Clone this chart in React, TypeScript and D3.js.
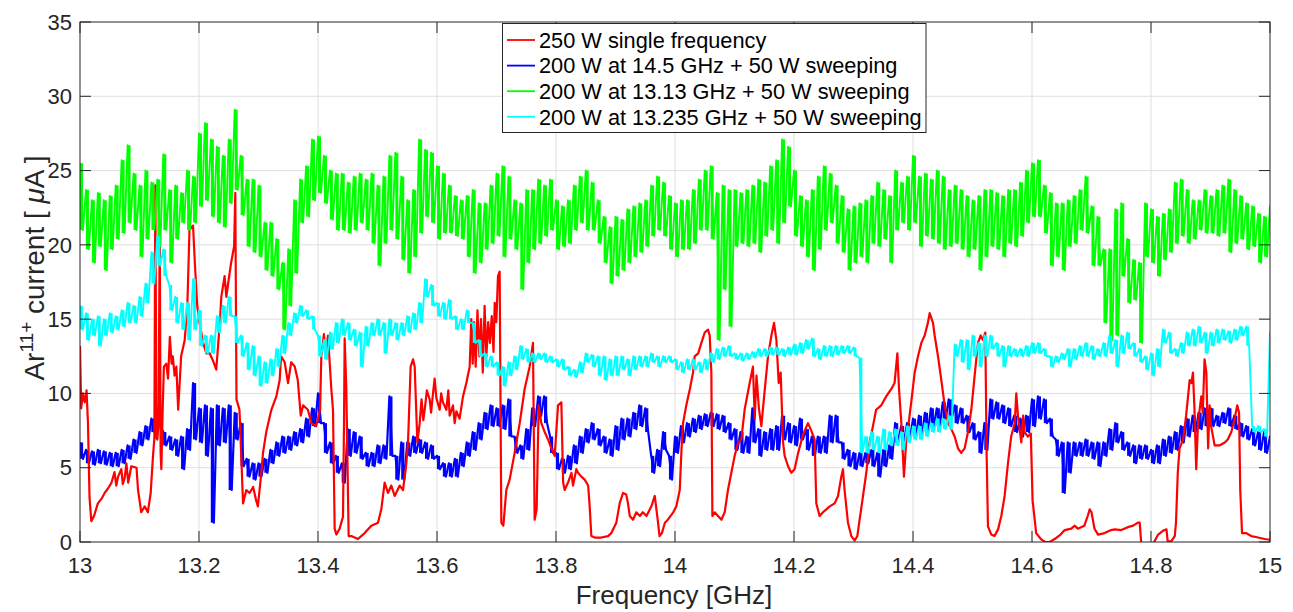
import React, { useRef, useEffect } from 'react'
import * as d3 from 'd3'

// sample grid of the decimated traces: one bin every 10 MHz, 13 -> 15 GHz
const FREQ = d3.range(0, 201).map(i => +(13 + i * 0.01).toFixed(2))
const HALF = 0.005

// 200 W at 13.13 GHz + 50 W sweeping (max / min per bin)
const greenHi = [25.5,23.7,23.0,23.5,23.0,23.3,24.0,25.7,26.7,24.8,24.0,25.0,24.2,24.4,26.1,23.7,24.0,23.5,25.0,24.6,
  27.5,28.2,27.1,26.6,26.0,27.1,29.1,26.0,24.4,24.4,24.0,21.5,21.5,20.4,18.8,19.7,23.0,24.4,25.3,27.1,
  27.3,26.0,25.0,24.8,24.8,24.2,24.6,24.8,24.4,24.8,24.0,24.6,26.0,26.2,24.6,23.0,23.7,27.1,26.4,26.2,
  25.3,24.8,24.0,23.3,23.0,23.3,23.7,22.8,22.8,24.0,24.8,25.3,24.6,23.0,22.8,23.7,23.7,24.4,24.0,24.4,
  23.0,22.6,23.0,24.0,24.6,25.0,24.2,23.0,21.9,21.2,21.9,21.7,22.4,22.6,22.8,23.0,24.0,24.6,24.2,23.3,
  22.8,23.0,23.0,23.7,24.4,25.0,25.3,23.5,24.0,23.7,23.7,23.5,23.7,24.0,24.4,24.2,25.3,25.7,27.1,26.6,
  25.0,23.3,23.0,23.7,24.6,25.3,24.8,24.0,23.3,22.4,22.6,22.8,23.0,23.3,24.2,23.7,23.3,25.0,24.2,24.6,
  26.0,24.6,24.8,24.4,25.0,24.6,23.7,24.0,23.7,23.3,23.0,23.3,23.7,23.7,23.5,23.3,23.7,23.7,24.2,25.0,
  25.5,25.7,24.0,23.5,22.8,22.8,23.0,23.3,23.7,24.6,22.6,21.9,19.7,19.7,22.4,22.8,20.4,19.0,18.8,22.8,
  22.4,21.9,22.1,22.4,24.2,24.4,23.7,23.0,23.0,23.7,23.3,23.7,24.0,24.4,23.7,23.3,22.8,22.6,22.1,21.9,
  22.6]
const greenLo = [21.0,19.7,18.8,19.9,18.3,19.7,20.4,20.8,21.5,21.0,19.2,20.4,21.0,19.9,21.0,18.8,20.4,21.5,21.0,21.5,
  22.6,23.0,21.9,21.5,21.2,22.8,23.7,22.0,19.9,19.5,19.2,18.3,17.9,17.0,14.3,15.9,18.1,21.5,21.9,23.0,
  23.5,22.8,21.7,21.0,21.0,20.8,21.0,21.5,21.0,20.1,18.6,20.1,21.0,20.4,19.0,18.1,19.2,20.8,21.9,21.5,
  20.4,20.8,20.8,20.6,20.4,19.2,18.1,18.8,19.7,20.1,20.6,19.2,20.4,19.7,17.0,18.8,19.7,20.1,20.6,21.0,
  19.7,19.9,20.1,21.0,21.5,21.0,21.0,20.1,18.8,17.4,17.9,18.3,18.8,19.2,19.5,19.9,20.6,21.0,20.6,19.7,
  19.2,19.7,19.7,20.1,21.0,21.0,20.4,13.6,17.0,14.5,19.9,20.1,19.9,20.1,19.5,20.6,21.0,20.1,21.5,22.6,
  20.6,19.9,19.2,18.3,19.7,21.0,21.5,20.1,19.5,18.3,18.8,19.2,18.8,20.1,19.9,20.4,18.8,21.0,21.5,21.0,
  21.5,19.9,20.6,20.4,20.1,19.7,19.9,20.1,19.7,19.2,19.7,18.3,19.2,19.9,19.7,19.2,20.1,19.9,20.6,21.5,
  21.9,21.9,20.8,18.6,19.2,18.3,19.9,20.1,21.0,20.8,18.6,18.6,14.75,13.6,13.9,17.9,16.1,16.3,13.4,19.2,
  18.8,17.9,19.0,19.5,20.1,20.6,20.1,20.4,21.0,20.8,20.8,20.6,20.8,19.5,20.1,20.4,19.7,19.9,18.8,19.2,
  18.8]

// 200 W at 13.235 GHz + 50 W sweeping
const cyanHi = [15.9,15.4,15.0,15.2,15.0,15.4,15.2,15.6,16.1,15.9,16.5,17.4,19.5,20.6,19.7,17.3,16.5,16.1,16.1,17.7,
  15.6,13.9,13.9,15.2,15.9,16.5,15.2,13.9,13.4,13.2,12.5,12.1,12.3,13.0,13.9,14.75,15.4,15.9,15.6,15.2,
  13.9,13.6,14.1,14.75,15.0,14.75,14.3,14.1,14.5,14.75,15.0,14.75,15.0,14.75,14.75,15.2,15.4,16.1,17.7,17.3,
  16.1,16.1,16.3,15.2,15.0,15.6,14.75,13.6,12.7,12.5,12.1,11.8,12.1,12.5,13.2,13.0,12.7,12.7,12.7,12.5,
  12.3,12.3,11.8,11.6,12.1,12.7,12.6,12.5,12.5,12.3,12.5,12.5,12.3,12.5,12.5,12.5,12.7,12.5,12.5,12.5,
  12.3,12.1,12.3,12.3,12.1,12.3,12.7,13.0,13.1,13.2,12.7,12.7,12.7,12.8,13.0,13.0,13.1,13.1,13.0,13.1,
  13.3,13.4,13.6,13.7,13.0,13.2,13.2,13.2,13.2,13.2,13.1,12.4,7.1,7.4,7.1,7.6,7.4,7.6,7.4,7.8,
  7.8,7.8,8.0,8.0,8.3,8.3,8.5,13.3,13.6,13.6,13.9,13.4,13.9,13.9,13.4,13.2,13.2,13.0,13.0,13.2,
  13.4,13.4,13.0,12.5,12.5,12.7,13.0,13.0,13.2,13.4,13.2,13.0,13.4,13.9,13.6,13.9,14.1,13.4,13.0,12.5,
  12.7,13.0,14.3,14.1,13.0,13.4,14.1,14.3,14.5,14.1,14.1,14.3,14.3,14.2,14.3,14.5,14.5,7.8,7.8,7.6,
  14.1]
const cyanLo = [14.3,13.6,13.9,13.2,13.9,14.1,14.3,14.5,14.75,14.75,15.2,16.1,17.4,18.6,17.9,15.6,14.75,14.3,13.6,14.3,
  13.2,12.7,12.7,14.1,14.75,15.2,13.4,12.5,11.6,11.2,10.5,10.7,11.2,11.8,12.7,13.9,14.75,15.2,15.0,14.3,
  12.5,12.3,13.0,13.4,13.9,13.6,13.2,11.8,13.2,13.9,13.9,12.7,13.9,13.6,13.9,14.1,14.3,14.75,16.5,15.9,
  15.2,15.0,15.0,14.3,14.3,14.75,13.4,12.5,11.8,11.8,11.2,10.5,11.2,11.6,12.3,12.1,12.1,12.3,12.1,12.1,
  11.8,11.6,11.2,11.1,11.4,12.1,11.8,11.2,10.9,11.2,11.2,11.6,11.2,11.6,11.8,11.8,12.1,11.8,12.1,12.1,
  11.6,11.4,11.6,11.6,11.4,11.6,12.1,12.3,12.5,12.5,12.3,12.2,12.3,12.4,12.5,12.5,12.6,12.6,12.5,12.6,
  12.6,12.7,13.0,12.5,12.3,12.5,12.5,12.6,12.7,12.7,12.5,6.0,6.0,6.2,6.0,6.2,6.5,6.5,6.2,6.7,
  6.9,6.9,7.1,7.4,7.4,7.6,7.6,12.5,12.1,11.6,12.5,11.8,12.5,13.0,12.5,11.8,12.5,12.5,12.5,12.5,
  12.7,12.7,12.5,11.8,12.1,12.3,11.8,12.3,12.5,12.5,12.3,12.5,12.5,12.7,11.8,12.7,13.0,12.5,12.1,11.6,
  11.2,11.8,13.4,12.7,12.5,12.7,13.2,13.2,13.4,12.7,13.2,13.4,13.6,13.4,13.6,13.9,13.2,7.4,7.4,7.1,
  14.0]

// 200 W at 14.5 GHz + 50 W sweeping
const blueHi = [6.7,6.2,6.1,6.2,6.1,6.0,6.0,6.2,6.5,6.9,7.4,7.8,8.3,9.0,7.4,7.1,6.9,7.1,7.6,10.7,
  9.0,9.2,9.0,9.2,9.0,9.2,8.7,8.0,5.6,5.3,5.3,5.6,6.2,6.7,7.1,7.1,7.4,7.6,8.3,9.0,
  10.0,8.0,6.7,5.8,5.3,7.6,7.4,7.1,6.0,6.0,6.5,6.5,9.8,5.8,6.7,6.7,7.1,6.9,6.7,6.5,
  5.8,5.3,5.3,5.6,6.0,6.7,7.4,8.0,8.7,9.2,9.0,9.2,9.6,7.1,6.5,7.6,9.0,9.8,9.8,7.1,
  6.0,5.6,5.8,6.5,7.1,7.6,8.0,7.6,7.1,6.9,7.8,8.3,8.3,8.7,9.2,9.0,5.8,6.2,7.4,5.8,
  7.1,7.8,8.0,8.3,8.5,8.6,8.7,8.6,8.5,8.0,7.6,7.4,7.1,9.0,7.6,7.4,7.6,7.8,8.5,8.0,
  7.8,8.3,7.6,7.1,7.1,7.1,8.5,8.5,6.7,6.2,6.0,6.0,6.0,6.2,6.0,6.2,6.5,8.0,7.8,8.0,
  8.3,8.5,8.7,9.0,9.0,9.4,9.6,9.2,9.0,8.5,8.0,7.4,8.0,9.6,9.4,9.2,9.0,8.5,8.3,8.5,
  9.6,9.8,9.6,8.3,6.9,6.7,6.7,6.7,6.7,6.9,6.7,6.7,6.7,7.6,8.0,7.4,6.7,6.5,6.5,6.5,
  6.2,6.5,6.9,7.1,7.4,7.8,8.3,8.5,8.7,9.0,9.0,8.5,8.7,9.0,8.5,8.0,7.8,7.6,7.4,7.4,
  7.1]
const blueLo = [5.6,5.3,5.2,5.3,5.2,5.1,5.1,5.3,5.6,6.0,6.5,6.9,7.4,7.8,6.5,6.2,5.8,4.9,6.2,6.9,
  6.7,5.8,1.3,6.5,6.7,3.5,6.9,5.1,4.4,4.2,4.4,4.66,5.3,5.8,6.0,6.2,6.5,6.7,7.1,7.8,
  8.0,6.0,5.3,4.66,4.0,5.8,6.0,5.6,5.1,5.1,5.3,5.6,5.8,4.2,4.2,5.8,6.0,6.0,5.6,5.6,
  4.9,4.4,4.4,4.4,5.1,5.8,6.2,6.9,7.6,7.8,7.8,7.6,7.1,6.0,5.6,6.2,7.8,8.5,8.0,6.0,
  4.9,4.66,4.9,5.3,6.0,6.7,6.9,6.5,6.0,5.8,6.2,6.9,7.1,7.6,7.8,7.4,4.66,5.1,6.2,4.2,
  6.0,6.7,7.1,7.4,7.6,7.8,7.8,7.6,7.4,6.9,6.2,6.0,6.0,6.7,5.8,6.2,6.2,6.2,6.9,6.7,
  6.5,6.9,6.2,5.8,6.0,6.0,6.7,6.7,5.6,5.1,4.9,5.1,5.3,5.1,4.4,5.1,5.6,6.7,6.7,6.9,
  7.1,7.1,7.4,7.8,7.8,8.3,8.3,8.0,8.0,7.4,6.9,6.0,6.2,8.3,8.3,8.0,7.8,7.4,7.1,7.4,
  7.8,8.3,8.0,7.1,5.8,3.3,4.66,5.8,5.8,5.8,5.6,5.1,5.8,6.2,6.7,6.2,5.8,5.3,5.6,5.6,
  5.3,5.3,5.8,6.0,6.2,6.7,7.1,7.4,7.6,7.8,7.8,7.8,8.0,7.8,7.6,7.1,6.9,6.5,6.2,6.0,
  5.6]

// 250 W single frequency: [frequency GHz, current uA]
const redTrace: [number, number][] = [
  [13.000,13.2],[13.002,9.0],[13.005,10.0],[13.008,9.4],[13.011,10.2],[13.0134,8.0],[13.016,3.0],[13.019,1.4],
  [13.024,1.8],[13.030,2.6],[13.036,2.9],[13.0415,3.3],[13.047,3.6],[13.053,4.0],[13.058,4.7],[13.061,3.8],
  [13.064,4.4],[13.0695,4.9],[13.072,3.9],[13.075,4.3],[13.078,5.3],[13.081,4.0],[13.0863,5.1],[13.095,5.0],
  [13.0975,3.5],[13.103,2.0],[13.1087,2.4],[13.114,2.0],[13.1188,3.3],[13.1227,5.8],[13.125,7.0],[13.1266,24.0],
  [13.1285,7.0],[13.130,6.9],[13.132,8.0],[13.134,21.3],[13.1355,6.0],[13.1367,4.9],[13.139,9.0],[13.141,11.8],
  [13.145,12.0],[13.148,11.0],[13.151,13.8],[13.154,12.0],[13.156,12.5],[13.159,11.2],[13.162,11.8],[13.165,8.9],
  [13.170,12.5],[13.176,13.6],[13.1804,15.9],[13.184,21.0],[13.190,21.3],[13.193,18.8],[13.197,15.9],[13.201,14.75],
  [13.207,13.4],[13.2123,12.7],[13.218,12.7],[13.2235,12.2],[13.229,11.6],[13.235,14.75],[13.2375,16.5],[13.243,17.9],
  [13.246,16.5],[13.249,17.4],[13.254,18.8],[13.259,19.9],[13.261,23.5],[13.263,9.6],[13.268,8.9],[13.271,5.8],
  [13.274,2.6],[13.2795,3.5],[13.285,3.3],[13.291,3.7],[13.296,2.8],[13.299,2.4],[13.3036,4.2],[13.3076,6.0],
  [13.313,7.4],[13.3216,8.9],[13.330,9.8],[13.3356,10.9],[13.338,12.5],[13.344,12.1],[13.3496,10.7],[13.355,12.1],
  [13.361,11.8],[13.366,10.9],[13.371,8.5],[13.375,9.2],[13.383,8.9],[13.3888,8.0],[13.397,7.8],[13.4034,8.9],
  [13.4056,12.5],[13.41,14.0],[13.4125,12.5],[13.4168,13.9],[13.4224,10.3],[13.4252,8.9],[13.428,0.9],[13.4308,0.5],
  [13.4364,0.9],[13.442,1.7],[13.4437,8.0],[13.4448,13.7],[13.4476,10.3],[13.4515,0.4],[13.456,0.4],[13.4672,0.2],
  [13.4784,0.6],[13.4896,1.1],[13.5008,1.3],[13.5064,2.2],[13.512,4.0],[13.5176,3.3],[13.5232,3.8],[13.5289,3.1],
  [13.5373,3.8],[13.5429,3.5],[13.5485,5.3],[13.5513,6.7],[13.5557,11.8],[13.5597,12.3],[13.5625,11.8],[13.567,6.7],
  [13.5709,8.0],[13.574,9.6],[13.577,8.2],[13.5793,8.9],[13.583,10.2],[13.5877,9.6],[13.590,8.7],[13.5933,10.0],
  [13.596,11.0],[13.5989,9.7],[13.6045,8.9],[13.607,10.0],[13.61,9.4],[13.6157,8.9],[13.619,10.2],[13.6213,8.5],
  [13.6269,9.2],[13.6297,8.0],[13.6325,8.8],[13.638,8.3],[13.6437,9.8],[13.6493,10.7],[13.6549,11.8],[13.6577,15.0],
  [13.66,12.0],[13.6622,14.8],[13.665,11.8],[13.668,15.6],[13.671,12.5],[13.674,15.0],[13.677,11.4],[13.680,15.9],
  [13.683,12.5],[13.686,14.8],[13.689,13.4],[13.692,15.2],[13.695,12.8],[13.697,16.1],[13.6997,14.8],[13.7025,17.9],
  [13.7053,18.2],[13.7081,1.3],[13.7115,1.1],[13.7165,3.5],[13.7221,4.2],[13.7305,6.0],[13.739,8.0],[13.7473,10.3],
  [13.7557,11.8],[13.7613,13.4],[13.7641,1.5],[13.7675,2.2],[13.7709,9.2],[13.7754,8.0],[13.781,7.4],[13.7866,6.9],
  [13.7922,6.3],[13.7978,5.8],[13.8034,9.2],[13.809,9.4],[13.812,4.0],[13.8146,3.5],[13.8202,4.0],[13.826,4.66],
  [13.8286,3.8],[13.8342,4.9],[13.837,4.66],[13.8426,4.4],[13.8482,4.2],[13.854,3.8],[13.8566,2.4],[13.8594,0.4],
  [13.865,0.3],[13.876,0.3],[13.8874,0.4],[13.893,0.6],[13.9014,1.3],[13.907,2.6],[13.9126,3.3],[13.918,3.2],
  [13.921,2.6],[13.924,1.75],[13.9295,1.5],[13.935,2.0],[13.941,1.75],[13.946,2.0],[13.952,1.75],[13.9603,2.4],
  [13.966,3.1],[13.9715,1.3],[13.974,0.4],[13.978,0.6],[13.983,1.3],[13.988,1.5],[13.997,2.0],[14.0023,2.4],
  [14.008,3.5],[14.011,6.3],[14.0135,8.0],[14.019,9.2],[14.025,10.3],[14.0303,11.4],[14.033,12.5],[14.039,12.7],
  [14.0443,13.4],[14.05,14.1],[14.0555,14.3],[14.0583,13.9],[14.0611,11.4],[14.0628,1.75],[14.0667,2.0],[14.0723,1.75],
  [14.078,1.5],[14.0835,2.0],[14.089,3.5],[14.0947,4.66],[14.1003,5.8],[14.106,6.7],[14.1115,6.9],[14.117,8.9],
  [14.1255,10.7],[14.131,11.8],[14.134,8.3],[14.137,11.2],[14.141,9.0],[14.1451,7.8],[14.151,10.3],[14.1563,12.5],
  [14.162,13.9],[14.1664,14.75],[14.1704,13.6],[14.1743,10.7],[14.1776,11.4],[14.1816,6.7],[14.1843,5.8],[14.19,5.1],
  [14.1955,4.66],[14.201,4.9],[14.207,6.0],[14.215,7.2],[14.2235,8.0],[14.229,7.5],[14.2347,6.9],[14.2375,2.6],
  [14.243,1.75],[14.2487,2.0],[14.2543,2.2],[14.26,2.4],[14.2683,2.6],[14.274,3.1],[14.2795,4.4],[14.2823,4.9],
  [14.285,3.5],[14.2907,1.3],[14.2963,0.4],[14.302,0.1],[14.3064,0.4],[14.3103,1.5],[14.316,3.1],[14.3215,4.66],
  [14.327,6.7],[14.3327,7.8],[14.338,8.9],[14.3467,9.2],[14.355,9.8],[14.3636,10.3],[14.369,10.7],[14.3737,12.7],
  [14.3765,10.3],[14.3804,8.0],[14.3848,4.4],[14.3888,6.9],[14.3927,8.0],[14.397,9.4],[14.4028,11.4],[14.4084,12.5],
  [14.414,13.4],[14.4196,13.9],[14.425,14.75],[14.428,15.4],[14.4336,14.75],[14.4364,13.9],[14.442,12.5],[14.4476,10.9],
  [14.4532,9.2],[14.4588,8.0],[14.4644,7.6],[14.47,7.1],[14.4756,6.3],[14.481,6.0],[14.4868,6.3],[14.4924,7.4],
  [14.498,8.9],[14.5036,11.2],[14.5092,13.4],[14.5137,13.9],[14.5176,13.6],[14.5215,14.1],[14.5238,5.8],[14.526,1.05],
  [14.5316,0.5],[14.537,0.4],[14.543,0.85],[14.5484,1.75],[14.554,3.1],[14.5596,5.3],[14.565,7.1],[14.571,8.0],
  [14.5736,10.0],[14.5764,8.5],[14.582,6.7],[14.585,8.5],[14.5876,7.4],[14.593,7.1],[14.598,7.3],[14.601,2.8],
  [14.607,0.6],[14.615,0.2],[14.622,0.0],[14.63,0.0],[14.638,0.2],[14.648,0.5],[14.655,0.8],[14.666,0.9],
  [14.672,1.1],[14.677,0.9],[14.688,1.1],[14.694,1.8],[14.697,2.2],[14.700,2.0],[14.705,0.9],[14.711,0.5],
  [14.722,0.6],[14.733,0.8],[14.739,0.85],[14.750,0.8],[14.761,1.0],[14.770,1.1],[14.778,1.3],[14.781,1.3],
  [14.784,-0.3],[14.800,-0.3],[14.806,0.05],[14.812,0.5],[14.820,0.75],[14.826,0.85],[14.828,0.05],[14.834,0.05],
  [14.840,0.4],[14.842,1.3],[14.845,4.66],[14.848,6.3],[14.854,6.9],[14.859,8.5],[14.865,10.9],[14.868,10.7],
  [14.8705,11.4],[14.873,9.0],[14.876,4.9],[14.879,8.0],[14.8845,9.8],[14.887,8.7],[14.890,12.3],[14.893,11.4],
  [14.896,6.3],[14.8985,9.2],[14.901,7.8],[14.907,6.5],[14.915,6.5],[14.924,6.7],[14.929,6.9],[14.935,7.4],
  [14.9405,8.3],[14.945,9.2],[14.948,8.7],[14.950,3.5],[14.953,0.6],[14.960,0.6],[14.9685,0.4],[14.980,0.3],
  [14.991,0.2],[15.0,0.15]
]

const xTicks = [13, 13.2, 13.4, 13.6, 13.8, 14, 14.2, 14.4, 14.6, 14.8, 15]
const yTicks = [0, 5, 10, 15, 20, 25, 30, 35]

const legendLabels = [
  '250 W single frequency',
  '200 W at 14.5 GHz + 50 W sweeping',
  '200 W at 13.13 GHz + 50 W sweeping',
  '200 W at 13.235 GHz + 50 W sweeping'
]
const legendColors = ['#ff0000', '#0000ff', '#00ff00', '#00ffff']

const W = 1293
const H = 612
const left = 80
const right = 1270
const top = 22
const bottom = 542
const axisColor = '#262626'
const font = '"Liberation Sans", Arial, Helvetica, sans-serif'

export default function App() {
  const svgRef = useRef<SVGSVGElement>(null)

  useEffect(() => {
    const svg = d3.select(svgRef.current)
    svg.selectAll('*').remove()

    const x = d3.scaleLinear().domain([13, 15]).range([left, right])
    const y = d3.scaleLinear().domain([0, 35]).range([bottom, top])

    svg.append('rect').attr('width', W).attr('height', H).attr('fill', 'white')

    svg.append('clipPath').attr('id', 'plot-area')
      .append('rect')
        .attr('x', left).attr('y', top)
        .attr('width', right - left).attr('height', bottom - top)

    // grid
    const grid = svg.append('g').attr('stroke', '#dfdfdf').attr('stroke-width', 1)
    xTicks.slice(1, -1).forEach(t => {
      grid.append('line').attr('x1', x(t)).attr('x2', x(t)).attr('y1', top).attr('y2', bottom)
    })
    yTicks.slice(1, -1).forEach(t => {
      grid.append('line').attr('x1', left).attr('x2', right).attr('y1', y(t)).attr('y2', y(t))
    })

    // min/max decimated traces: range bar per bin plus the zigzag through the extremes
    const envelope = (hi: number[], lo: number[]) => {
      const pts: [number, number][] = []
      FREQ.forEach((f, i) => {
        pts.push([f, hi[i]])
        pts.push([f + HALF, lo[i]])
      })
      return pts
    }
    const line = d3.line<[number, number]>().x(d => x(d[0])).y(d => y(d[1]))

    const traces = svg.append('g').attr('clip-path', 'url(#plot-area)')
      .attr('fill', 'none').attr('stroke-linejoin', 'round')

    const drawBand = (hi: number[], lo: number[], color: string, width: number, barWidth: number) => {
      const g = traces.append('g').attr('stroke', color)
      g.append('g').attr('stroke-width', barWidth)
        .selectAll('line').data(FREQ).join('line')
          .attr('x1', d => x(d + HALF / 2)).attr('x2', d => x(d + HALF / 2))
          .attr('y1', (d, i) => y(hi[i])).attr('y2', (d, i) => y(lo[i]))
      g.append('path').attr('d', line(envelope(hi, lo))).attr('stroke-width', width)
    }

    drawBand(blueHi, blueLo, '#0000ff', 2.2, 3.2)
    traces.append('path').attr('d', line(redTrace))
      .attr('stroke', '#ff0000').attr('stroke-width', 2.2)
    drawBand(greenHi, greenLo, '#00ff00', 1.9, 3.0)
    drawBand(cyanHi, cyanLo, '#00ffff', 1.9, 2.8)

    // axes box and inward ticks
    const ax = svg.append('g').attr('stroke', axisColor).attr('stroke-width', 1)
    ax.append('rect').attr('x', left).attr('y', top)
      .attr('width', right - left).attr('height', bottom - top).attr('fill', 'none')
    const tl = 11
    xTicks.forEach(t => {
      ax.append('line').attr('x1', x(t)).attr('x2', x(t)).attr('y1', bottom).attr('y2', bottom - tl)
      ax.append('line').attr('x1', x(t)).attr('x2', x(t)).attr('y1', top).attr('y2', top + tl)
    })
    yTicks.forEach(t => {
      ax.append('line').attr('x1', left).attr('x2', left + tl).attr('y1', y(t)).attr('y2', y(t))
      ax.append('line').attr('x1', right).attr('x2', right - tl).attr('y1', y(t)).attr('y2', y(t))
    })

    // tick labels
    const labels = svg.append('g').attr('font-family', font).attr('fill', axisColor).attr('font-size', 22)
    xTicks.forEach(t => {
      labels.append('text').attr('x', x(t)).attr('y', 573)
        .attr('text-anchor', 'middle').text(d3.format('~g')(t))
    })
    yTicks.forEach(t => {
      labels.append('text').attr('x', 72).attr('y', y(t)).attr('dy', '0.35em')
        .attr('text-anchor', 'end').text(t)
    })

    // axis titles
    svg.append('text').attr('x', 674).attr('y', 604)
      .attr('text-anchor', 'middle').attr('font-family', font).attr('font-size', 26)
      .attr('fill', axisColor).text('Frequency [GHz]')

    const yl = svg.append('text')
      .attr('transform', 'translate(44,268) rotate(-90)')
      .attr('text-anchor', 'middle').attr('font-family', font).attr('font-size', 28)
      .attr('fill', axisColor)
    yl.append('tspan').text('Ar')
    yl.append('tspan').attr('font-size', 19).attr('dy', -11).text('11+')
    yl.append('tspan').attr('dy', 11).text(' current [ ')
    yl.append('tspan').attr('font-style', 'italic').text('μ')
    yl.append('tspan').text('A ]')

    // legend
    const lg = svg.append('g').attr('font-family', font).attr('font-size', 21.75)
    lg.append('rect').attr('x', 502.5).attr('y', 23.5).attr('width', 423.5).attr('height', 109)
      .attr('fill', 'white').attr('stroke', axisColor).attr('stroke-width', 1)
    legendLabels.forEach((label, i) => {
      const cy = 40 + i * 25.6
      lg.append('line').attr('x1', 507).attr('x2', 535).attr('y1', cy).attr('y2', cy)
        .attr('stroke', legendColors[i]).attr('stroke-width', 1.8)
      lg.append('text').attr('x', 539).attr('y', cy).attr('dy', '0.36em')
        .attr('fill', '#000').text(label)
    })
  }, [])

  return (
    <div style={{ position: 'absolute', left: 0, top: 0 }}>
      <svg ref={svgRef} width={W} height={H} style={{ display: 'block' }} />
    </div>
  )
}
